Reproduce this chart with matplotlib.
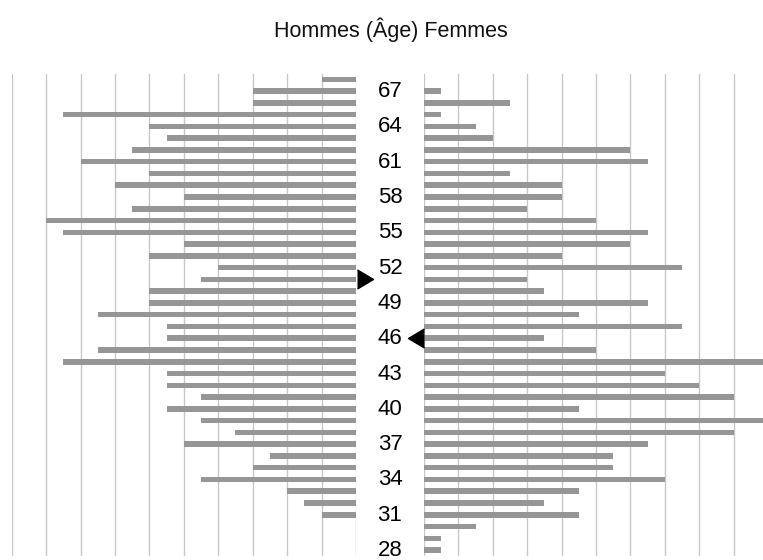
"""
Pyramide des âges — Hommes / Femmes
"""

import matplotlib
matplotlib.use('Agg')
import matplotlib.pyplot as plt
import matplotlib.transforms as mtransforms
from matplotlib import font_manager

# ── Data ──────────────────────────────────────────────
AGES = list(range(68, 27, -1))          # 68 ... 28
MEN = [2, 6, 6, 17, 12, 11, 13, 16, 12, 14, 10, 13, 18,
       17, 10, 12, 8, 9, 12, 12, 15, 11, 11, 15, 17, 11,
       11, 9, 11, 9, 7, 10, 5, 6, 9, 4, 3, 2, 0, 0, 0]
WOMEN = [0, 1, 5, 1, 3, 4, 12, 13, 5, 8, 8, 6, 10,
         13, 12, 8, 15, 6, 7, 13, 9, 15, 7, 10, 20, 14,
         16, 18, 9, 20, 18, 13, 11, 11, 14, 9, 7, 9, 3, 1, 1]
LABEL_AGES = list(range(67, 27, -3))
MEN_MEDIAN = 51
WOMEN_MEDIAN = 46
TITLE = 'Hommes (Âge) Femmes'

# ── Style ─────────────────────────────────────────────
BAR   = '#969696'
GRID  = '#c8c8c8'
names = {f.name for f in font_manager.fontManager.ttflist}
NARROW = 'Liberation Sans Narrow' if 'Liberation Sans Narrow' in names else 'Liberation Sans'

W, H = 763, 560
fig = plt.figure(figsize=(W / 100, H / 100), dpi=100)

y0, y1 = 1 - 556 / H, 1 - 74 / H
axL = fig.add_axes([11.7 / W, y0, (356 - 11.7) / W, y1 - y0])
axR = fig.add_axes([424 / W, y0, (768 - 424) / W, y1 - y0])

for ax, vals in ((axL, MEN), (axR, WOMEN)):
    ax.barh(AGES, vals, height=0.47, color=BAR, zorder=2)
    ax.set_ylim(27.5, 68.45)
    ax.set_xticks(range(0, 21, 2))
    ax.grid(axis='x', color=GRID, linewidth=1.0, zorder=0)
    ax.set_axisbelow(True)
    ax.tick_params(left=False, bottom=False, labelleft=False, labelbottom=False)
    for s in ax.spines.values():
        s.set_visible(False)

axL.set_xlim(20, 0)
axR.set_xlim(0, 20)

# ── Age labels in the middle ──────────────────────────
tr = mtransforms.blended_transform_factory(fig.transFigure, axL.transData)
for a in LABEL_AGES:
    fig.text(390 / W, a - 0.04, str(a), transform=tr, ha='center', va='center',
             fontsize=16, family=NARROW, color='black')

# ── Median markers ────────────────────────────────────
tri = [(-0.42, -0.5), (0.42, 0), (-0.42, 0.5)]
trL = mtransforms.offset_copy(axL.transData, fig=fig, x=8.7, y=0, units='dots')
axL.plot([0], [MEN_MEDIAN], marker=tri, ms=13.7, color='black', lw=0,
         transform=trL, clip_on=False, zorder=5)
tri_l = [(0.42, -0.5), (-0.42, 0), (0.42, 0.5)]
trR = mtransforms.offset_copy(axR.transData, fig=fig, x=-8.5, y=0, units='dots')
axR.plot([0], [WOMEN_MEDIAN], marker=tri_l, ms=13.7, color='black', lw=0,
         transform=trR, clip_on=False, zorder=5)

# ── Title ─────────────────────────────────────────────
fig.text(391 / W, 1 - 30 / H, TITLE, ha='center', va='center',
         fontsize=15.5, family='Liberation Sans', color='#111111')

fig.savefig('out.png', dpi=100)
